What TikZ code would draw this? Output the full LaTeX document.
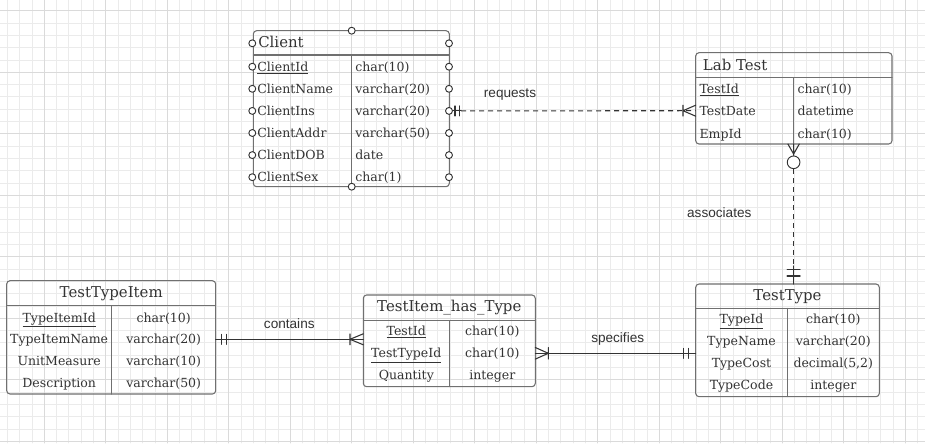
\documentclass[tikz,border=0pt]{standalone}
\usepackage{fontspec}
\setmainfont{DejaVu Serif}
\newfontfamily\lblfont{Liberation Sans}
\usetikzlibrary{calc}
\definecolor{gridmin}{HTML}{EBEBEB}
\definecolor{gridmaj}{HTML}{DADADA}
\definecolor{boxc}{HTML}{707070}
\definecolor{txtc}{HTML}{333333}
\definecolor{linec}{HTML}{333333}
\begin{document}
\begin{tikzpicture}[x=0.75pt,y=-0.75pt,line join=round,line cap=round,
	box/.style={draw=boxc,line width=0.8pt,rounded corners=2.5pt},
	sep/.style={draw=boxc,line width=0.8pt},
	fld/.style={text=txtc,inner sep=0pt,text height=1.5ex,text depth=.25ex,font=\fontsize{9.4}{11}\selectfont},
	ttl/.style={fld,font=\fontsize{11.2}{13}\selectfont},
	lbl/.style={text=txtc,inner sep=0pt,font=\lblfont\fontsize{10.2}{12}\selectfont},
	pin/.style={circle,draw=linec,fill=white,line width=0.7pt,inner sep=0pt,minimum size=5.2pt},
	rel/.style={draw=linec,line width=0.8pt},
	dash line/.style={rel,line cap=butt,dash pattern=on 3.75pt off 3pt}]
				% grid paper
				\useasboundingbox (0,0) rectangle (925,443);
				\fill[white] (0,0) rectangle (925,443);
				\foreach \k in {0,...,74} \draw[gridmin,line width=0.6pt] ({7.3+12.3*\k},0)--({7.3+12.3*\k},443);
				\foreach \k in {0,...,35} \draw[gridmin,line width=0.6pt] (0,{10.7+12.3*\k})--(925,{10.7+12.3*\k});
				\foreach \k in {0,...,14} \draw[gridmaj,line width=0.7pt] ({44.2+61.5*\k},0)--({44.2+61.5*\k},443);
				\foreach \k in {0,...,7} \draw[gridmaj,line width=0.7pt] (0,{10.7+61.5*\k})--(925,{10.7+61.5*\k});
				% Client
				\draw[box] (253.3,30.7) rectangle (449.3,186.7);
				\draw[sep] (253.3,55)--(449.3,55) (351.7,55)--(351.7,186.7);
				\node[ttl,anchor=west] (cl) at (258,43.3) {Client};
				\foreach \n/\t [count=\i] in {\underline{ClientId}/char(10),ClientName/varchar(20),ClientIns/varchar(20),ClientAddr/varchar(50),ClientDOB/date,ClientSex/char(1)}{
					\node[fld,anchor=west] (cl-n\i) at (257,{44.6+22.1*\i}) {\n};
					\node[fld,anchor=west] (cl-t\i) at (355,{44.6+22.1*\i}) {\t};
					\node[pin] (cl-l\i) at (252.3,{44.6+22.1*\i}) {};
					\node[pin] (cl-r\i) at (449,{44.6+22.1*\i}) {};
				}
				\node[pin] (cl-l0) at (252.3,43.3) {};
				\node[pin] (cl-r0) at (449,43.3) {};
				\node[pin] (cl-top) at (351.7,30.7) {};
				\node[pin] (cl-bot) at (351.7,186.7) {};
				% Lab Test
				\draw[box] (695.7,52.7) rectangle (892,144);
				\draw[sep] (695.7,77.7)--(892,77.7) (793.3,77.7)--(793.3,144);
				\node[ttl,anchor=west] (lt) at (702.7,65.7) {Lab Test};
				\foreach \n/\t [count=\i] in {\underline{TestId}/char(10),TestDate/datetime,EmpId/char(10)}{
					\node[fld,anchor=west] (lt-n\i) at (699.3,{67+22.3*\i}) {\n};
					\node[fld,anchor=west] (lt-t\i) at (797.3,{67+22.3*\i}) {\t};
				}
				\coordinate (lt-w) at (695.7,110.7);
				\coordinate (lt-s) at (793.6,144);
				\node[pin,minimum size=9.5pt] (lt-o) at (793.6,162.3) {};
				% TestType
				\draw[box] (695.7,284) rectangle (879.3,396.7);
				\draw[sep] (695.7,308.3)--(879.3,308.3) (787.3,308.3)--(787.3,396.7);
				\node[ttl] (tt) at (787.5,295.7) {TestType};
				\foreach \n/\t [count=\i] in {\underline{TypeId}/char(10),TypeName/varchar(20),TypeCost/{decimal(5,2)},TypeCode/integer}{
					\node[fld] (tt-n\i) at (741.5,{297.3+22*\i}) {\n};
					\node[fld] (tt-t\i) at (833.3,{297.3+22*\i}) {\t};
				}
				\coordinate (tt-n) at (793.6,284);
				\coordinate (tt-k) at (793.6,266);
				\coordinate (tt-w) at (695.7,353.3);
				% TestItem_has_Type
				\draw[box] (363.3,295) rectangle (535.3,386.7);
				\draw[sep] (363.3,320.7)--(535.3,320.7) (449.3,320.7)--(449.3,386.7);
				\node[ttl] (th) at (449.3,307.3) {TestItem\_has\_Type};
				\foreach \n/\t [count=\i] in {\underline{TestId}/char(10),\underline{TestTypeId}/char(10),Quantity/integer}{
					\node[fld] (th-n\i) at (406.3,{309+22*\i}) {\n};
					\node[fld] (th-t\i) at (492.3,{309+22*\i}) {\t};
				}
				\coordinate (th-w) at (363.3,339.3);
				\coordinate (th-e) at (535.3,353.3);
				% TestTypeItem
				\draw[box] (6.7,280.7) rectangle (215.7,394);
				\draw[sep] (6.7,305.7)--(215.7,305.7) (111.7,305.7)--(111.7,394);
				\node[ttl] (ti) at (111.2,293.3) {TestTypeItem};
				\foreach \n/\t [count=\i] in {\underline{TypeItemId}/char(10),TypeItemName/varchar(20),UnitMeasure/varchar(10),Description/varchar(50)}{
					\node[fld] (ti-n\i) at (59.2,{296+21.7*\i}) {\n};
					\node[fld] (ti-t\i) at (163.7,{296+21.7*\i}) {\t};
				}
				\coordinate (ti-e) at (215.7,339.3);
				% requests
				\draw[dash line] ($(cl-r3)+(12,0)$)--(lt-w);
				\draw[rel] (cl-r3)--++(12,0);
				\draw[rel] ($(cl-r3)+(6,-5)$)--++(0,10) ($(cl-r3)+(10.5,-5)$)--++(0,10);
				\draw[rel] ($(lt-w)+(-12.7,-5.5)$)--++(0,11) ($(lt-w)+(0,-5.5)$)--($(lt-w)+(-12.7,0)$)--($(lt-w)+(0,5.5)$);
				\node[lbl] (rq) at (510,94.3) {requests};
				% associates
				\draw[rel] ($(lt-s)+(-5.7,0)$)--($(lt-s)+(0,10)$)--($(lt-s)+(5.7,0)$) (lt-s)--(lt-o);
				\draw[dash line] (lt-o)--(tt-k);
				\draw[rel] (tt-k)--(tt-n);
				\draw[rel] ($(tt-n)+(-6.5,-14.7)$)--++(13,0) ($(tt-n)+(-6.5,-8)$)--++(13,0);
				\node[lbl] (as) at (719.3,212.3) {associates};
				% contains
				\draw[rel] (ti-e)--(th-w);
				\draw[rel] ($(ti-e)+(6,-5)$)--++(0,10) ($(ti-e)+(11,-5)$)--++(0,10);
				\draw[rel] ($(th-w)+(-13.3,-5.5)$)--++(0,11) ($(th-w)+(0,-5.5)$)--($(th-w)+(-13.3,0)$)--($(th-w)+(0,5.5)$);
				\node[lbl] (ct) at (289.3,323.3) {contains};
				% specifies
				\draw[rel] (th-e)--(tt-w);
				\draw[rel] ($(th-e)+(13,-5.8)$)--++(0,11.6) ($(th-e)+(0,-5.8)$)--($(th-e)+(13,0)$)--($(th-e)+(0,5.8)$);
				\draw[rel] ($(tt-w)+(-12.4,-5)$)--++(0,10) ($(tt-w)+(-7.4,-5)$)--++(0,10);
				\node[lbl] (sp) at (617.7,339.3) {specifies};
			\end{tikzpicture}
\end{document}
